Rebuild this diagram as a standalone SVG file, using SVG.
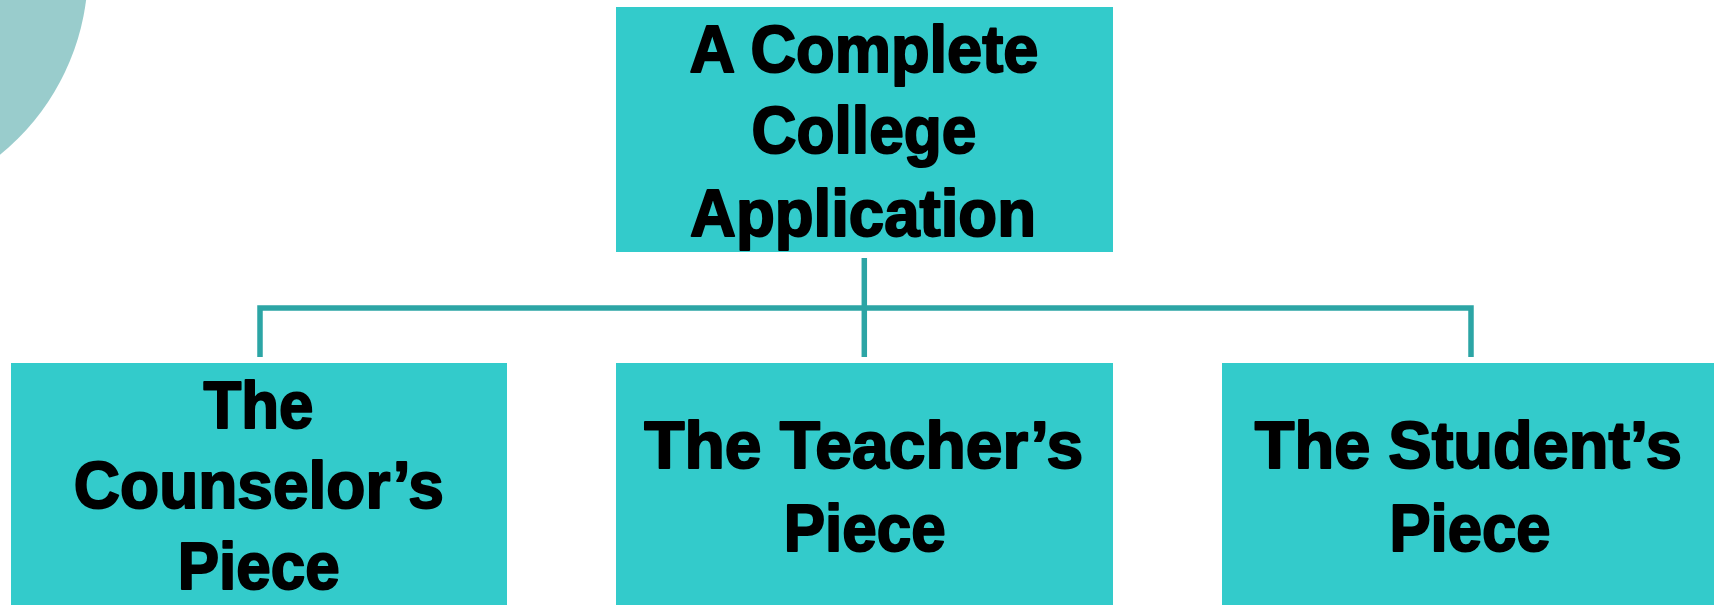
<svg xmlns="http://www.w3.org/2000/svg" width="1714" height="605" viewBox="0 0 1714 605">
<style>
.box{fill:#33CBCB}
.lbl{font-family:"Liberation Sans",Arial,sans-serif;font-weight:bold;font-size:66px;fill:#000;stroke:#000;stroke-width:2;stroke-linejoin:round;text-anchor:middle}
.con{stroke:#2CA5A5;stroke-width:5.5;fill:none}
</style>
<rect width="1714" height="605" fill="#fff"/>
<circle cx="-150" cy="-30" r="238" fill="#99CCCC"/>
<g id="connectors">
<line class="con" x1="864.3" y1="258" x2="864.3" y2="357"/>
<polyline class="con" points="260,357 260,308 1471,308 1471,357"/>
</g>
<g id="node-top">
<rect class="box" x="616" y="7" width="497" height="245"/>
<text class="lbl" x="864" y="72" textLength="349" lengthAdjust="spacingAndGlyphs">A Complete</text>
<text class="lbl" x="864" y="153" textLength="225" lengthAdjust="spacingAndGlyphs">College</text>
<text class="lbl" x="863" y="235.5" textLength="346" lengthAdjust="spacingAndGlyphs">Application</text>
</g>
<g id="node-counselor">
<rect class="box" x="11" y="363" width="496" height="242"/>
<text class="lbl" x="258.5" y="428" textLength="110" lengthAdjust="spacingAndGlyphs">The</text>
<text class="lbl" x="258.8" y="508" textLength="370" lengthAdjust="spacingAndGlyphs">Counselor’s</text>
<text class="lbl" x="258.7" y="589" textLength="162" lengthAdjust="spacingAndGlyphs">Piece</text>
</g>
<g id="node-teacher">
<rect class="box" x="616" y="363" width="497" height="242"/>
<text class="lbl" x="863.7" y="468" textLength="439" lengthAdjust="spacingAndGlyphs">The Teacher’s</text>
<text class="lbl" x="864.7" y="550.5" textLength="162" lengthAdjust="spacingAndGlyphs">Piece</text>
</g>
<g id="node-student">
<rect class="box" x="1222" y="363" width="492" height="242"/>
<text class="lbl" x="1468.3" y="468" textLength="427" lengthAdjust="spacingAndGlyphs">The Student’s</text>
<text class="lbl" x="1470" y="550.5" textLength="161" lengthAdjust="spacingAndGlyphs">Piece</text>
</g>
</svg>
